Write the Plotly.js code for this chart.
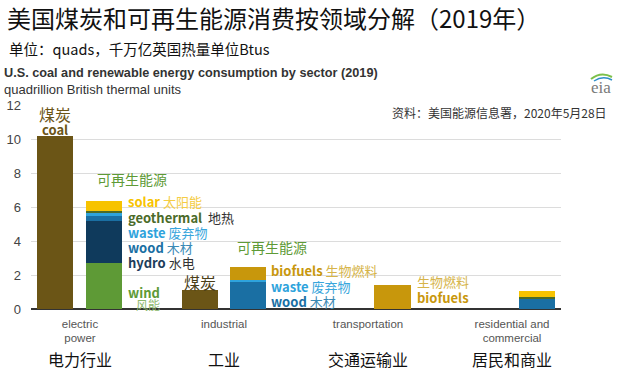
<!DOCTYPE html>
<html><head><meta charset="utf-8">
<script src="https://cdn.plot.ly/plotly-3.0.1.min.js"></script>
<style>html,body{margin:0;padding:0;background:#fff}#chart{width:624px;height:386px}</style>
</head><body><div id="chart"></div>
<script>
// ---- data ----
const sectorsEn = ["electric<br>power", "industrial", "transportation", "residential and<br>commercial"];
const sectorsZh = ["电力行业", "工业", "交通运输业", "居民和商业"];
const coal       = [10.15, 1.12, 0, 0];
const wind       = [2.72, 0, 0, 0];
const hydro      = [2.45, 0, 0, 0];
const wood       = [0.30, 1.56, 0, 0.60];
const waste      = [0.20, 0.14, 0, 0];
const geothermal = [0.10, 0, 0, 0.08];
const biofuels   = [0, 0.78, 1.40, 0];
const solar      = [0.60, 0, 0, 0.38];
const yTicks = [0, 2, 4, 6, 8, 10, 12];

// ---- layout constants ----
const W = 624, H = 386, L = 31, R = 63, T = 105, B = 77;
const GAP = 0.17, BW = 0.25;
const XR = [-0.34, 3.34], YR = [0, 12];
const X = px => XR[0] + (px - L) / (W - L - R) * (XR[1] - XR[0]);
const Y = py => YR[0] + (H - B - py) / (H - T - B) * (YR[1] - YR[0]);
const PX = px => (px - L) / (W - L - R);
const PY = py => (H - B - py) / (H - T - B);

const idx = sectorsEn.map((_, i) => i);
const coalX = idx.map(i => i - GAP);
const renX = idx.map(i => i + GAP);

const C = {
  coal: '#6b5516', wind: '#5e9a36', hydro: '#0f3a5c', wood: '#1a6fa3',
  waste: '#2ea3dc', geo: '#4b6b2a', bio: '#c8970c', solar: '#f7c300'
};

function bar(name, x, y, color) {
  return {type: 'bar', name, x, y, width: BW, marker: {color, line: {width: 0}}, hoverinfo: 'skip'};
}
const data = [
  bar('coal', coalX, coal, C.coal),
  bar('wind', renX, wind, C.wind),
  bar('hydro', renX, hydro, C.hydro),
  bar('wood', renX, wood, C.wood),
  bar('waste', renX, waste, C.waste),
  bar('geothermal', renX, geothermal, C.geo),
  bar('biofuels', renX, biofuels, C.bio),
  bar('solar', renX, solar, C.solar)
];

const CJK = '"Noto Sans CJK SC", "Liberation Sans", sans-serif';
const LAT = '"Liberation Sans", Arial, sans-serif';
function ann(text, px, py, size, color, xanchor, extra) {
  return Object.assign({text, x: X(px), y: Y(py), xref: 'x', yref: 'y', showarrow: false,
    xanchor: xanchor || 'left', yanchor: 'middle', font: {size, color, family: CJK}}, extra || {});
}
function pann(text, px, py, size, color, xanchor, family, extra) {
  return Object.assign({text, x: PX(px), y: PY(py), xref: 'paper', yref: 'paper', showarrow: false,
    xanchor: xanchor || 'left', yanchor: 'middle', font: {size, color, family: family || CJK}}, extra || {});
}
const sp = (c, t) => '<span style="color:' + c + '">' + t + '</span>';

const annotations = [
  // header
  pann('美国煤炭和可再生能源消费按领域分解（2019年）', 5, 18, 24, '#111', 'left'),
  pann('单位：quads，千万亿英国热量单位Btus', 7, 48, 14.5, '#111', 'left'),
  pann('<b>U.S. coal and renewable energy consumption by sector (2019)</b>', 2, 73, 12.7, '#333', 'left', LAT),
  pann('quadrillion British thermal units', 2, 89, 13, '#333', 'left', LAT),
  pann('资料：美国能源信息署，2020年5月28日', 609, 112, 12, '#333', 'right'),
  pann('eia', 601, 87, 17, '#7a7a7a', 'center', '"Liberation Serif", serif'),
  // electric power
  ann('煤炭', 55, 114, 16, C.coal, 'center'),
  ann('<b>coal</b>', 55, 129, 13, C.coal, 'center'),
  ann('可再生能源', 132, 179, 14, '#5e9a36', 'center'),
  ann('<b>' + sp(C.solar, 'solar') + '</b> ' + sp('#f5cd45', '太阳能'), 126, 201, 13, C.solar),
  ann('<b>' + sp('#4b6b2a', 'geothermal') + '</b>  ' + sp('#333', '地热'), 126, 217, 13, '#4b6b2a'),
  ann('<b>' + sp(C.waste, 'waste') + '</b> ' + sp('#3aa6dc', '废弃物'), 126, 232, 13, C.waste),
  ann('<b>' + sp(C.wood, 'wood') + '</b> ' + sp('#3b8ab5', '木材'), 126, 247, 13, C.wood),
  ann('<b>' + sp('#1d3d5a', 'hydro') + '</b> ' + sp('#333', '水电'), 126, 262, 13, '#1d3d5a'),
  ann('<b>wind</b>', 126, 292, 13, '#5e9a36'),
  ann('风能', 134, 304, 12, '#8cb86c'),
  // industrial
  ann('煤炭', 200, 282, 16, '#4a3e18', 'center'),
  ann('可再生能源', 272, 247, 14, '#5e9a36', 'center'),
  ann('<b>' + sp(C.bio, 'biofuels') + '</b> ' + sp('#d6b44a', '生物燃料'), 269, 270, 13, C.bio),
  ann('<b>' + sp(C.waste, 'waste') + '</b> ' + sp('#3aa6dc', '废弃物'), 269, 286, 13, C.waste),
  ann('<b>' + sp(C.wood, 'wood') + '</b> ' + sp('#3b8ab5', '木材'), 269, 301, 13, C.wood),
  // transportation
  ann('生物燃料', 443, 281, 13, '#d6b44a', 'center'),
  ann('<b>biofuels</b>', 443, 297, 13, C.bio, 'center'),
  // residential
  ann('太阳能', 580, 269, 13, '#f5cd45', 'center'),
  ann('<b>solar</b>', 580, 287, 13, C.solar, 'center'),
  ann('<b>wood</b>', 580, 301, 13, C.wood, 'center'),
  ann('木材', 580, 320, 13, '#3b8ab5', 'center')
];
// chinese category labels
idx.forEach(i => annotations.push({text: sectorsZh[i], x: i, y: PY(359), xref: 'x', yref: 'paper',
  showarrow: false, xanchor: 'center', yanchor: 'middle', font: {size: 16, color: '#111', family: CJK}}));

const layout = {
  width: W, height: H, margin: {l: L, r: R, t: T, b: B},
  paper_bgcolor: '#fff', plot_bgcolor: '#fff', barmode: 'stack', showlegend: false, hovermode: false,
  xaxis: {range: XR, tickvals: idx, ticktext: sectorsEn, showgrid: false, zeroline: false,
    showline: false, ticks: '', ticklabelstandoff: 6, tickfont: {size: 11.5, color: '#555', family: LAT}, fixedrange: true},
  yaxis: {range: YR, tickvals: yTicks, showgrid: true, gridcolor: '#dcdcdc', gridwidth: 1,
    zeroline: true, zerolinecolor: '#333', zerolinewidth: 1.5, ticks: '', ticklabelstandoff: 9,
    tickfont: {size: 13, color: '#444', family: LAT}, fixedrange: true},
  annotations,
  shapes: [
    {type: 'path', xref: 'paper', yref: 'paper',
     path: 'M ' + PX(591) + ' ' + PY(79) + ' Q ' + PX(601) + ' ' + PY(71) + ' ' + PX(612) + ' ' + PY(77),
     line: {color: '#7cc04a', width: 2}},
    {type: 'path', xref: 'paper', yref: 'paper',
     path: 'M ' + PX(594) + ' ' + PY(81) + ' Q ' + PX(603) + ' ' + PY(75) + ' ' + PX(612) + ' ' + PY(80),
     line: {color: '#2e8fc8', width: 1.5}}
  ]
};
Plotly.newPlot('chart', data, layout, {staticPlot: true, displayModeBar: false});
</script></body></html>
